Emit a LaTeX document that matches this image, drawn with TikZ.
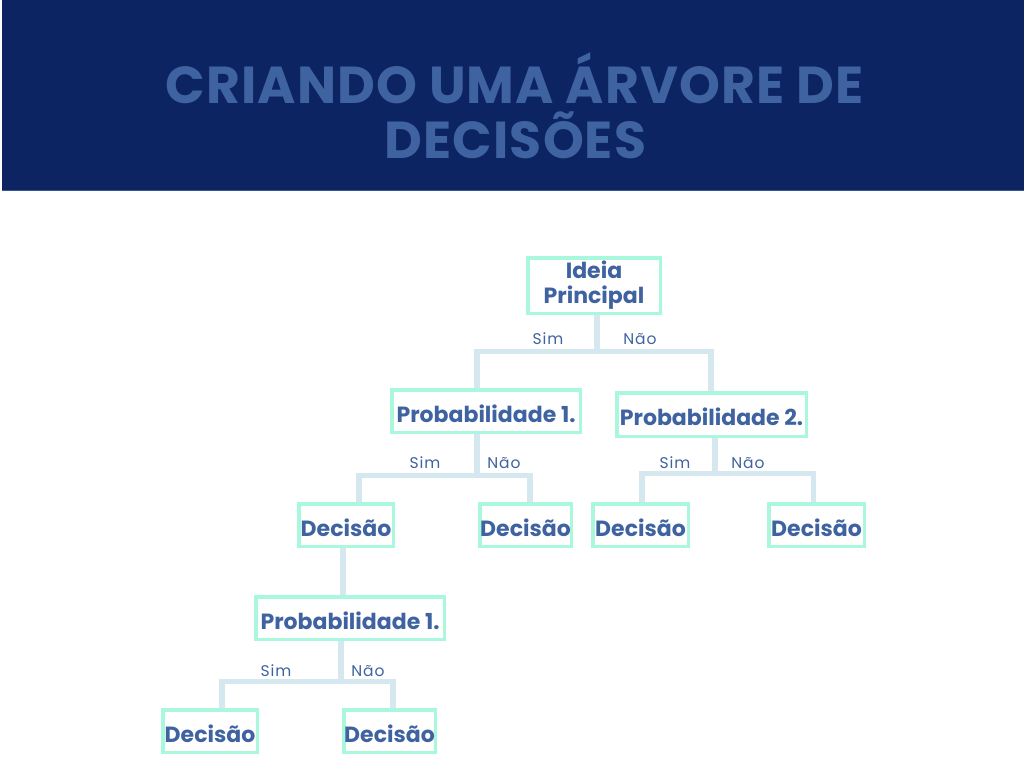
\documentclass[tikz,border=0pt]{standalone}
\usepackage{fontspec}
\setmainfont{Poppins}
\newfontfamily\labelfont[LetterSpace=6]{Poppins}
\newfontfamily\titlefont[LetterSpace=2]{Poppins}
\definecolor{navy}{HTML}{0D2462}
\definecolor{navyline}{HTML}{3A5690}
\definecolor{txtblue}{HTML}{3F63A0}
\definecolor{mint}{HTML}{A9F7DC}
\definecolor{conncol}{HTML}{D5E8F0}
\tikzset{
  box/.style={draw=mint, line width=3.5pt, fill=white, inner sep=0pt,
    font=\fontsize{22}{25}\selectfont\bfseries, text=txtblue, align=center},
  onebox/.style={box, text height=22.5pt, text depth=0pt},
  conn/.style={draw=conncol, line width=5.5pt, line join=miter},
  yn/.style={font=\labelfont\fontsize{15.5}{18}\selectfont, text=txtblue, anchor=base, inner sep=0pt},
  ttl/.style={font=\titlefont\fontsize{52}{55}\selectfont\bfseries, text=txtblue, anchor=base, inner sep=0pt}
}
\begin{document}
\begin{tikzpicture}[x=1pt,y=-1pt]
\useasboundingbox (0,0) rectangle (1024,768);
\fill[white] (0,0) rectangle (1024,768);
% header
\fill[navy] (2,0) rectangle (1024,191);
\draw[navyline, line width=1.5pt] (2,190.5) -- (1024,190.5);
\node[ttl] (t1) at (514.5,103) {CRIANDO UMA ÁRVORE DE};
\node[ttl] (t2) at (515.5,158) {DECISÕES};
% boxes
\node[box, minimum width=132.5pt, minimum height=55.5pt] (ideia) at (594,285.5) {Ideia\\Principal};
\node[onebox, minimum width=188.5pt, minimum height=42.5pt] (p1) at (486,411) {Probabilidade 1.};
\node[onebox, minimum width=189.5pt, minimum height=43.5pt] (p2) at (711.5,414.5) {Probabilidade 2.};
\node[onebox, minimum width=94.5pt, minimum height=42.5pt] (d1) at (346,525) {Decisão};
\node[onebox, minimum width=91.5pt, minimum height=42.5pt] (d2) at (525.5,525) {Decisão};
\node[onebox, minimum width=95.5pt, minimum height=42.5pt] (d3) at (640.5,525) {Decisão};
\node[onebox, minimum width=95.5pt, minimum height=42.5pt] (d4) at (816.5,525) {Decisão};
\node[onebox, minimum width=188.5pt, minimum height=42.5pt] (p3) at (350,618) {Probabilidade 1.};
\node[onebox, minimum width=94.5pt, minimum height=42.5pt] (d5) at (210,731) {Decisão};
\node[onebox, minimum width=91.5pt, minimum height=42.5pt] (d6) at (389.5,731) {Decisão};
% junctions
\coordinate (j0) at (597,351.5);
\coordinate (j0l) at (477,351.5);
\coordinate (j0r) at (711,351.5);
\coordinate (j1) at (477,475.5);
\coordinate (j1l) at (359,475.5);
\coordinate (j1r) at (530,475.5);
\coordinate (j2) at (715,473.5);
\coordinate (j2l) at (642,473.5);
\coordinate (j2r) at (813.5,473.5);
\coordinate (j3) at (341,681.5);
\coordinate (j3l) at (222,681.5);
\coordinate (j3r) at (393,681.5);
\coordinate (lk) at (343,0);
% connectors
\draw[conn] (j0 |- ideia.south) -- (j0);
\draw[conn] (j0l |- p1.north) -- (j0l) -- (j0r) -- (j0r |- p2.north);
\draw[conn] (j1 |- p1.south) -- (j1);
\draw[conn] (j1l |- d1.north) -- (j1l) -- (j1r) -- (j1r |- d2.north);
\draw[conn] (j2 |- p2.south) -- (j2);
\draw[conn] (j2l |- d3.north) -- (j2l) -- (j2r) -- (j2r |- d4.north);
\draw[conn] (lk |- d1.south) -- (lk |- p3.north);
\draw[conn] (j3 |- p3.south) -- (j3);
\draw[conn] (j3l |- d5.north) -- (j3l) -- (j3r) -- (j3r |- d6.north);
% labels
\node[yn] (s0) at (548,344) {Sim};
\node[yn] (n0) at (640,344) {Não};
\node[yn] (s1) at (425,468) {Sim};
\node[yn] (n1) at (504,468) {Não};
\node[yn] (s2) at (675,468) {Sim};
\node[yn] (n2) at (748,468) {Não};
\node[yn] (s3) at (276,676) {Sim};
\node[yn] (n3) at (368,676) {Não};
\end{tikzpicture}
\end{document}
